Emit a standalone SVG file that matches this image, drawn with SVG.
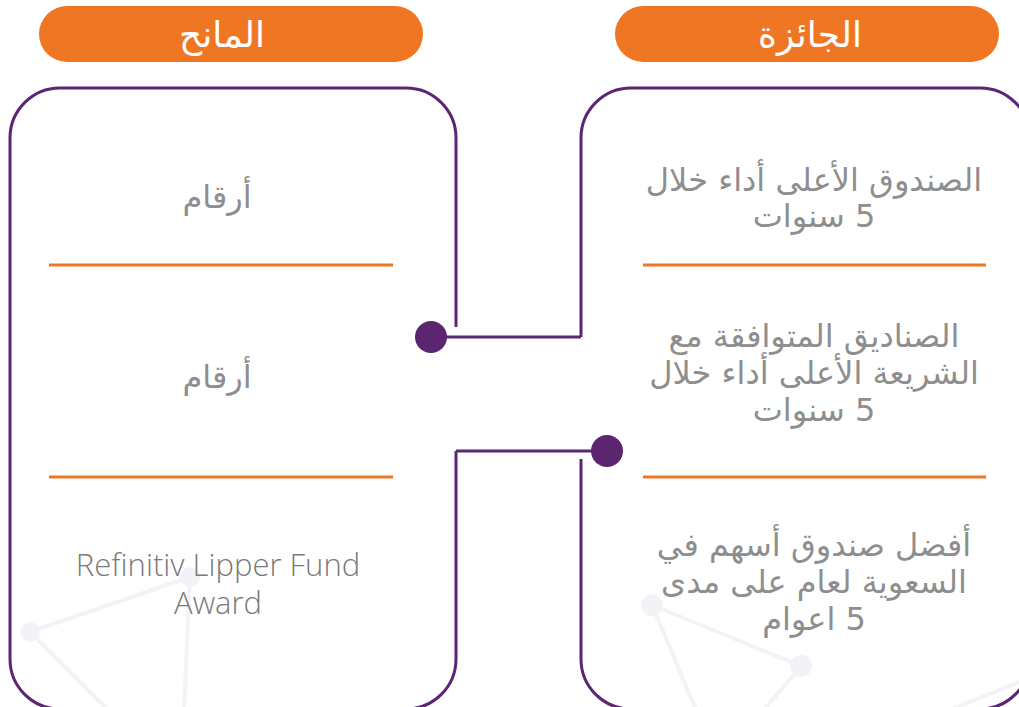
<svg xmlns="http://www.w3.org/2000/svg" width="1019" height="707" viewBox="0 0 1019 707">
<style>
.bg{fill:#ffffff}
.net line{stroke:#f3f2f6;stroke-width:4;stroke-linecap:round}
.net circle{fill:#f3f2f6}
.pill{fill:#ef7724}
.htxt{font-family:"DejaVu Sans",sans-serif;font-size:36px;fill:#ffffff;text-anchor:middle;direction:rtl}
.box{fill:none;stroke:#5b2673;stroke-width:3}
.sep{stroke:#ef7724;stroke-width:3}
.txt{font-family:"DejaVu Sans",sans-serif;font-size:32px;fill:#8e8e8e;text-anchor:middle;direction:rtl}
.lat{font-family:"Open Sans",sans-serif;font-size:31px;font-weight:300;fill:#7a7a7a;text-anchor:middle}
.conn{fill:none;stroke:#5b2673;stroke-width:3}
.dot{fill:#5b2570}
</style>
<rect class="bg" x="0" y="0" width="1019" height="707"/>
<g class="net">
<line x1="30" y1="632" x2="190" y2="577"/>
<line x1="190" y1="577" x2="184" y2="710"/>
<line x1="30" y1="632" x2="108" y2="710"/>
<circle cx="30" cy="632" r="10"/>
<circle cx="190" cy="577" r="10"/>
<line x1="652" y1="605" x2="801" y2="666"/>
<line x1="652" y1="605" x2="696" y2="710"/>
<line x1="801" y1="666" x2="764" y2="710"/>
<line x1="1022" y1="681" x2="950" y2="710"/>
<circle cx="652" cy="605" r="11"/>
<circle cx="801" cy="666" r="11"/>
</g>
<g id="header-left">
<rect class="pill" x="39" y="6" width="384" height="56" rx="28"/>
<text class="htxt" x="222" y="47">المانح</text>
</g>
<g id="header-right">
<rect class="pill" x="615" y="6" width="384" height="56" rx="28"/>
<text class="htxt" x="810" y="47">الجائزة</text>
</g>
<g id="grantor-box">
<path class="box" d="M456,327 V138 A50,50 0 0 0 406,88 H60 A50,50 0 0 0 10,138 V659 A50,50 0 0 0 60,709 H406 A50,50 0 0 0 456,659 V451"/>
<line class="sep" x1="49" y1="265" x2="393" y2="265"/>
<line class="sep" x1="49" y1="477" x2="393" y2="477"/>
<text class="txt" x="217" y="208">أرقام</text>
<text class="txt" x="217" y="388">أرقام</text>
<text class="lat" x="218" y="576">Refinitiv Lipper Fund</text>
<text class="lat" x="218" y="614">Award</text>
</g>
<g id="award-box">
<path class="box" d="M581,337 V138 A50,50 0 0 1 631,88 H980 A50,50 0 0 1 1030,138 V659 A50,50 0 0 1 980,709 H631 A50,50 0 0 1 581,659 V459"/>
<line class="sep" x1="643" y1="265" x2="986" y2="265"/>
<line class="sep" x1="643" y1="477" x2="986" y2="477"/>
<text class="txt" x="814" y="191">الصندوق الأعلى أداء خلال</text>
<text class="txt" x="814" y="227">5 سنوات</text>
<text class="txt" x="814" y="347">الصناديق المتوافقة مع</text>
<text class="txt" x="814" y="384">الشريعة الأعلى أداء خلال</text>
<text class="txt" x="814" y="421">5 سنوات</text>
<text class="txt" x="814" y="556">أفضل صندوق أسهم في</text>
<text class="txt" x="814" y="593">السعوية لعام على مدى</text>
<text class="txt" x="814" y="630">5 اعوام</text>
</g>
<g id="connectors">
<path class="conn" d="M431,337 H581"/>
<path class="conn" d="M607,451 H456"/>
<circle class="dot" cx="431" cy="337" r="16"/>
<circle class="dot" cx="607" cy="451" r="16"/>
</g>
</svg>
